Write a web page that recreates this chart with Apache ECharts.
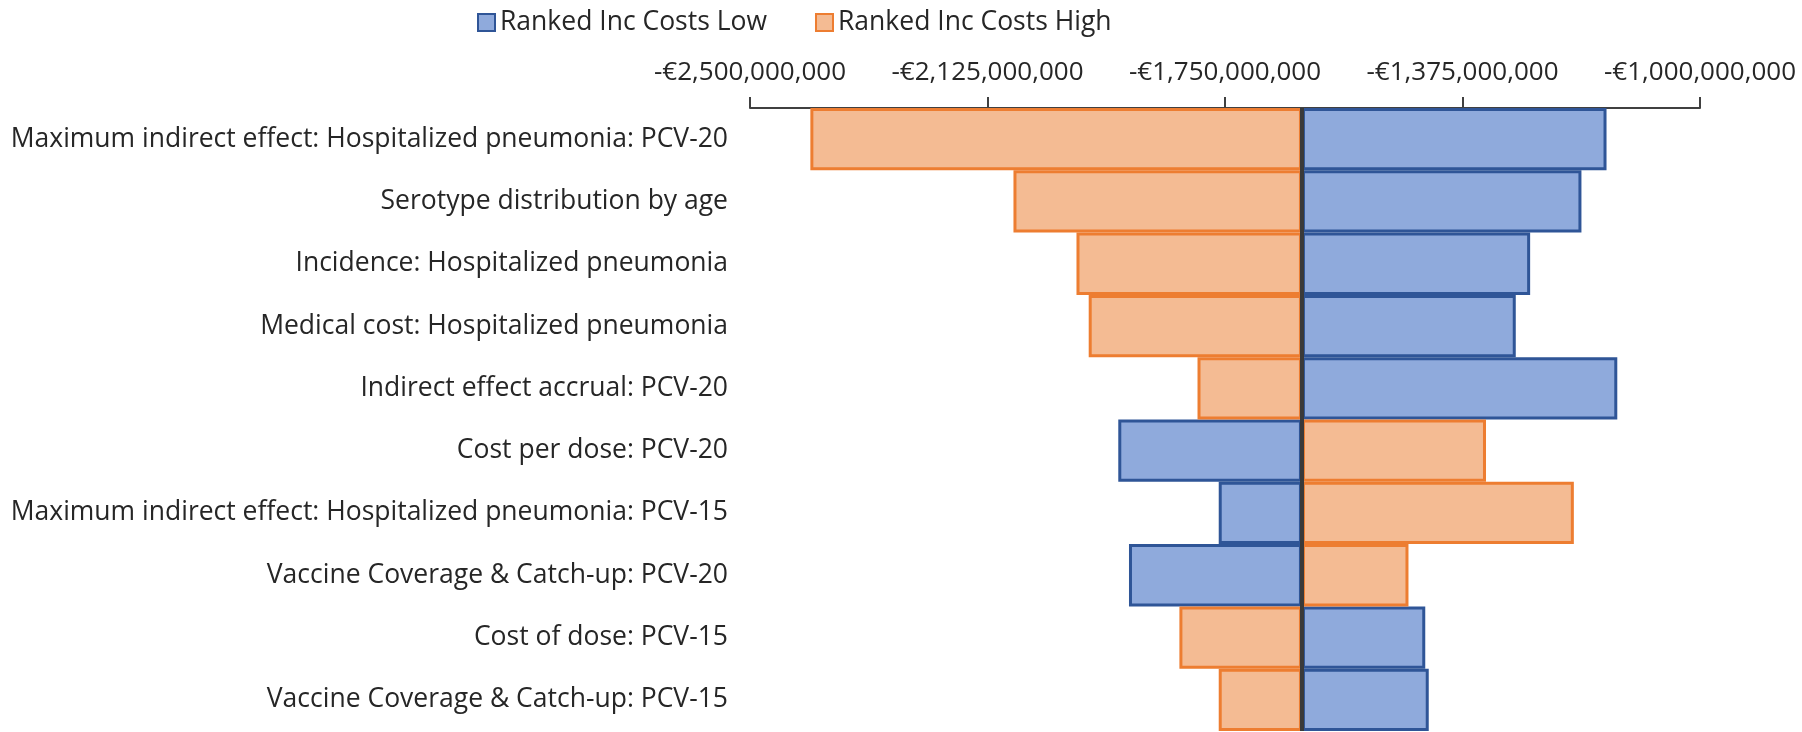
<!DOCTYPE html>
<html>
<head>
<meta charset="utf-8">
<script src="https://cdn.jsdelivr.net/npm/echarts@6/dist/echarts.min.js"></script>
<style>
  html, body { margin: 0; padding: 0; background: #fff; }
</style>
</head>
<body>
<div id="main" style="width: 1802px; height: 732px;"></div>
<script>
var categories = [
  'Maximum indirect effect: Hospitalized pneumonia: PCV-20',
  'Serotype distribution by age',
  'Incidence: Hospitalized pneumonia',
  'Medical cost: Hospitalized pneumonia',
  'Indirect effect accrual: PCV-20',
  'Cost per dose: PCV-20',
  'Maximum indirect effect: Hospitalized pneumonia: PCV-15',
  'Vaccine Coverage & Catch-up: PCV-20',
  'Cost of dose: PCV-15',
  'Vaccine Coverage & Catch-up: PCV-15'
]
// incremental costs (EUR)
var lowValues = [-1147600000, -1187200000, -1268200000, -1290900000, -1130600000,
  -1918500000, -1759900000, -1901600000, -1433800000, -1428300000]
var highValues = [-2404700000, -2084000000, -1984500000, -1965200000, -1793400000,
  -1337900000, -1199200000, -1460300000, -1822000000, -1759900000]
var baseValue = -1628500000
var axisMin = -2500000000
var axisMax = -1000000000
var axisStep = 375000000

var textColor = '#262626'
var font = 'Open Sans'

function euro(v) {
  var s = Math.abs(v).toString().replace(/\B(?=(\d{3})+(?!\d))/g, ',')
  return (v < 0 ? '-' : '') + '€' + s
}

var baseData = categories.map(function () { return baseValue })
var lowDelta = lowValues.map(function (v) { return v - baseValue })
var highDelta = highValues.map(function (v) { return v - baseValue })

var chartDom = document.getElementById('main')
var myChart = echarts.init(chartDom)

var hidden = {
  color: 'transparent',
  borderWidth: 0
}

var option = {
  animation: false,
  textStyle: { fontFamily: font },
  legend: {
    data: ['Ranked Inc Costs Low', 'Ranked Inc Costs High'],
    left: 472,
    top: 4,
    itemWidth: 17,
    itemHeight: 17,
    itemGap: 48,
    icon: 'rect',
    textStyle: { fontSize: 26.5, color: textColor, fontFamily: font, padding: [0, 0, 0, 0] }
  },
  grid: {
    left: 750,
    right: 102,
    top: 108,
    bottom: 1
  },
  xAxis: {
    type: 'value',
    position: 'top',
    min: axisMin,
    max: axisMax,
    interval: axisStep,
    splitLine: { show: false },
    axisLine: { show: true, lineStyle: { color: '#404040', width: 2 } },
    axisTick: { show: true, length: 11, lineStyle: { color: '#404040', width: 2 } },
    axisLabel: {
      fontSize: 26,
      color: textColor,
      margin: 22,
      formatter: euro
    }
  },
  yAxis: {
    type: 'category',
    inverse: true,
    data: categories,
    axisLine: { show: false },
    axisTick: { show: false },
    axisLabel: { fontSize: 26.5, color: textColor, margin: 22 }
  },
  series: [
    {
      name: 'lowBase',
      type: 'bar',
      stack: 'low',
      stackStrategy: 'all',
      barCategoryGap: '0%',
      barGap: '-100%',
      itemStyle: hidden,
      silent: true,
      data: baseData
    },
    {
      name: 'Ranked Inc Costs Low',
      type: 'bar',
      stack: 'low',
      stackStrategy: 'all',
      barCategoryGap: '0%',
      barGap: '-100%',
      itemStyle: { color: '#8FAADC', borderColor: '#2F5597', borderWidth: 3 },
      data: lowDelta
    },
    {
      name: 'highBase',
      type: 'bar',
      stack: 'high',
      stackStrategy: 'all',
      barCategoryGap: '0%',
      barGap: '-100%',
      itemStyle: hidden,
      silent: true,
      data: baseData
    },
    {
      name: 'Ranked Inc Costs High',
      type: 'bar',
      stack: 'high',
      stackStrategy: 'all',
      barCategoryGap: '0%',
      barGap: '-100%',
      itemStyle: { color: '#F4BB93', borderColor: '#ED7D31', borderWidth: 3 },
      data: highDelta,
      markLine: {
        silent: true,
        symbol: 'none',
        z: 10,
        label: { show: false },
        lineStyle: { color: '#3A3A3A', width: 4, type: 'solid', opacity: 1 },
        data: [{ xAxis: baseValue }]
      }
    }
  ]
}

option && myChart.setOption(option)
</script>
</body>
</html>
